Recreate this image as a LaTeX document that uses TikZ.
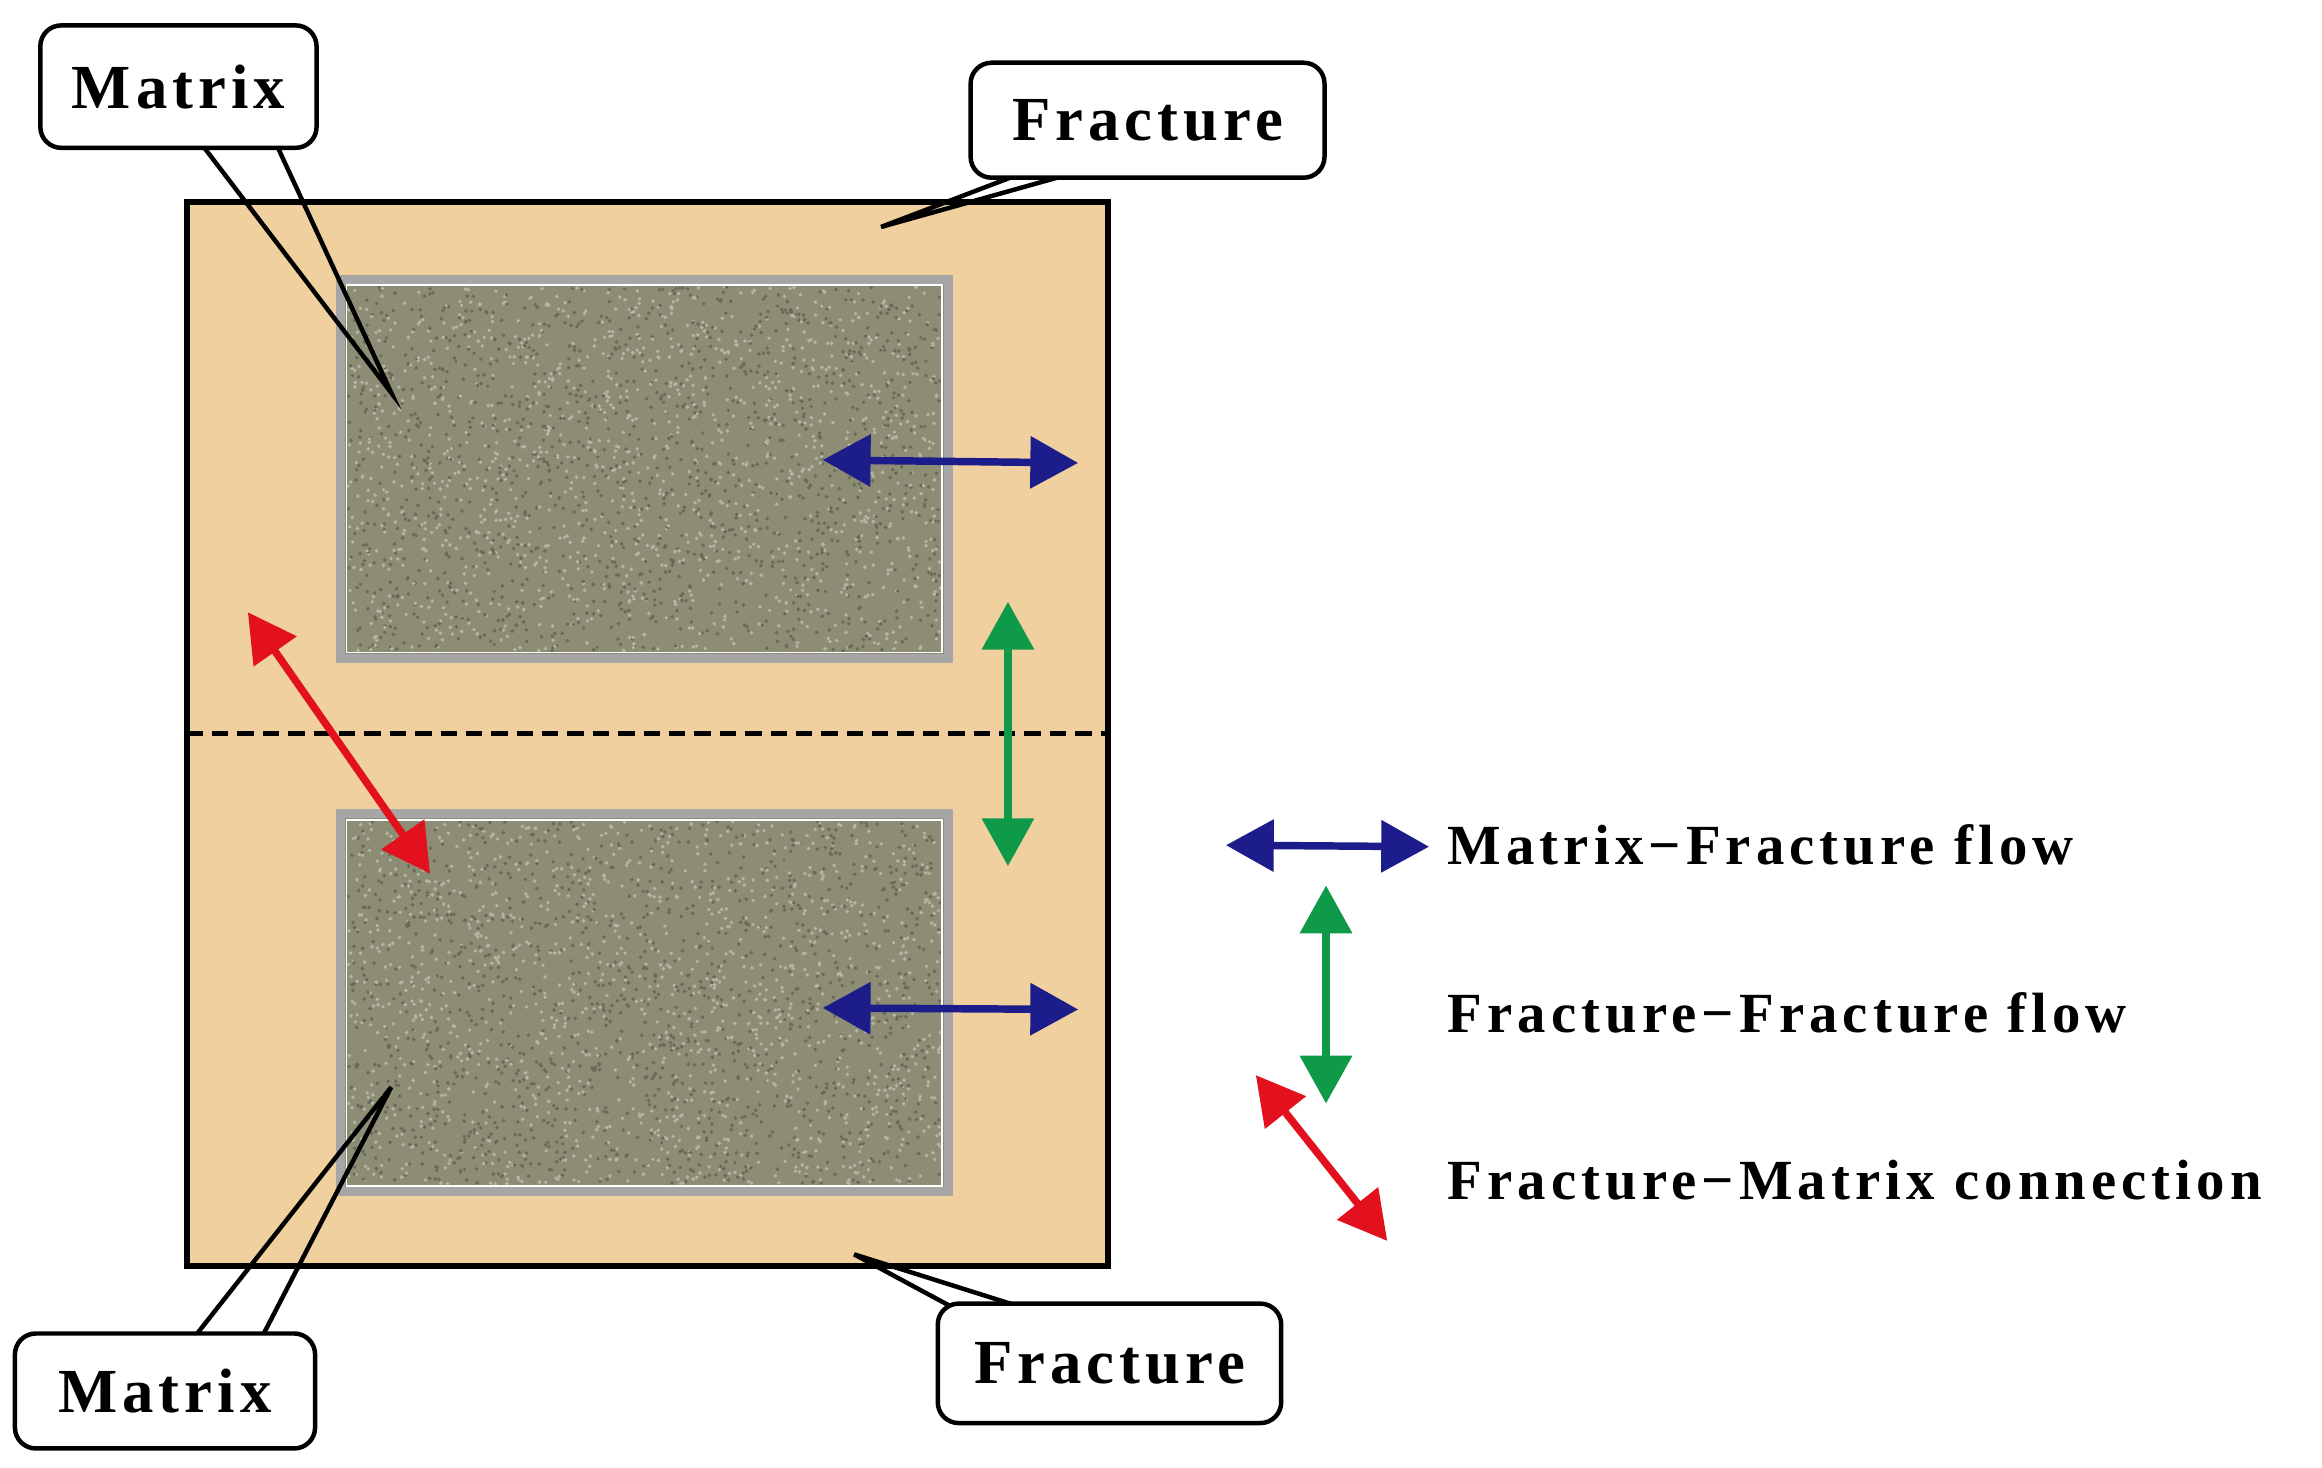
\documentclass[tikz,border=0pt]{standalone}
\usepackage{fontspec}
\setmainfont{Liberation Serif}
\usetikzlibrary{arrows.meta}
\definecolor{tan}{HTML}{EFD09E}
\definecolor{rock}{HTML}{8C8D74}
\definecolor{navy}{HTML}{1C1C8A}
\definecolor{grn}{HTML}{0E9A48}
\definecolor{rd}{HTML}{E3101E}
\tikzset{
 box/.style={draw=black,line width=3pt,rounded corners=14pt,fill=white,inner sep=0pt,font=\fontsize{42}{44}\selectfont\bfseries\addfontfeatures{LetterSpace=8}},
 wedge/.style={draw=black,line width=3pt},
 flow/.style={line width=5pt,{Triangle[length=32pt,width=34pt]}-{Triangle[length=32pt,width=34pt]}},
 lbl/.style={anchor=west,font=\fontsize{38}{42}\selectfont\bfseries\addfontfeatures{LetterSpace=9}},
 blk/.style={draw=gray!70,line width=6pt,fill=rock}
}
\begin{document}
\begin{tikzpicture}[x=1pt,y=-1pt]
\useasboundingbox (0,0) rectangle (1555,983);
\fill[white] (0,0) rectangle (1555,983);
\draw[line width=4pt,fill=tan] (125,135) coordinate (o1) rectangle (742,848) coordinate (o2);
\draw[blk] (228,187) coordinate (m1) rectangle (635,441);
\draw[blk] (228,545) coordinate (m2) rectangle (635,798);
\pgfmathsetseed{7}
\foreach \i in {1,...,2600}{
 \pgfmathsetmacro\xx{233+397*rnd}\pgfmathsetmacro\yy{192+244*rnd}
 \pgfmathsetmacro\c{rnd>0.5?1:0}
 \ifdim\c pt>0.5pt \fill[white!35!rock] (\xx,\yy) circle (1.3);\else \fill[black!25!rock] (\xx,\yy) circle (1.3);\fi
 \pgfmathsetmacro\xx{233+397*rnd}\pgfmathsetmacro\yy{550+243*rnd}
 \ifdim\c pt>0.5pt \fill[black!25!rock] (\xx,\yy) circle (1.3);\else \fill[white!35!rock] (\xx,\yy) circle (1.3);\fi
}
\draw[white,line width=1.2pt] (232,191) rectangle (631,437);
\draw[white,line width=1.2pt] (232,549) rectangle (631,794);
\draw[line width=3.5pt,dash pattern=on 11pt off 6pt] (125,491) coordinate (d1) -- (742,491) coordinate (d2);
% arrows
\coordinate (b1a) at (551,308); \coordinate (b1b) at (722,310);
\coordinate (b2a) at (551,675); \coordinate (b2b) at (722,676);
\coordinate (g1a) at (675,403); \coordinate (g1b) at (675,580);
\coordinate (r1a) at (166,410); \coordinate (r1b) at (288,585);
\draw[flow,navy] (b1a) -- (b1b);
\draw[flow,navy] (b2a) -- (b2b);
\draw[flow,grn] (g1a) -- (g1b);
\draw[flow,rd] (r1a) -- (r1b);
% legend
\coordinate (lb1) at (821,566); \coordinate (lb2) at (957,567);
\coordinate (lg1) at (888,593); \coordinate (lg2) at (888,739);
\coordinate (lr1) at (841,720); \coordinate (lr2) at (929,831);
\draw[flow,navy] (lb1) -- (lb2);
\draw[flow,grn] (lg1) -- (lg2);
\draw[flow,rd] (lr1) -- (lr2);
\node[lbl] (t1) at (966,566) {Matrix−Fracture flow};
\node[lbl] (t2) at (966,678) {Fracture−Fracture flow};
\node[lbl] (t3) at (966,790) {Fracture−Matrix connection};
% callouts
\coordinate (p1) at (262,263);
\draw[wedge] (130,90) -- (p1) -- (182,90);
\node[box,minimum width=185pt,minimum height=82pt] (c1) at (119.5,58) {Matrix};
\coordinate (p2) at (590,152);
\draw[wedge] (700,110) -- (p2) -- (740,110);
\node[box,minimum width=237pt,minimum height=77pt] (c2) at (768.5,80.5) {Fracture};
\coordinate (p3) at (572,840);
\draw[wedge] (650,882) -- (p3) -- (705,882);
\node[box,minimum width=230pt,minimum height=80pt] (c3) at (743,913) {Fracture};
\coordinate (p4) at (262,728);
\draw[wedge] (125,902) -- (p4) -- (172,902);
\node[box,minimum width=201pt,minimum height=77pt] (c4) at (110.5,931.5) {Matrix};
\end{tikzpicture}
\end{document}
